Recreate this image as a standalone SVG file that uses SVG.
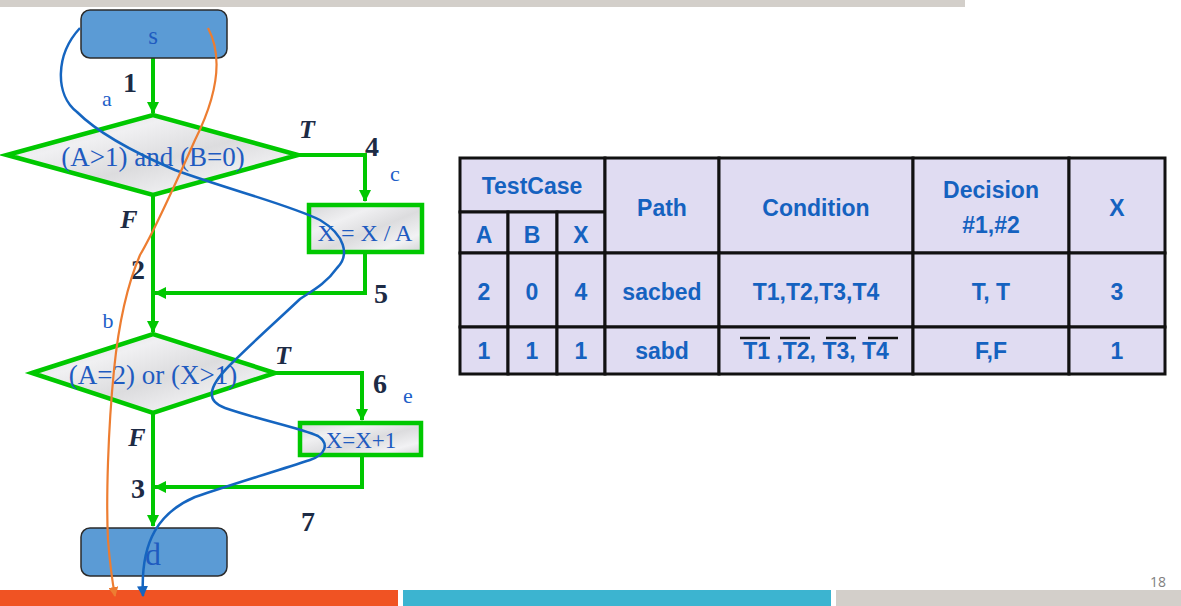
<svg xmlns="http://www.w3.org/2000/svg" width="1181" height="606" viewBox="0 0 1181 606">
<style>
.g{fill:none;stroke:#00c800;stroke-width:4}
.dia{fill:url(#marble);stroke:#00c800;stroke-width:4.5}
.term{fill:#5b9bd5;stroke:#2b2b2b;stroke-width:1.5}
.ft{font-family:"Liberation Serif","Times New Roman",serif;fill:#1f5bc0;text-anchor:middle}
.num{font-family:"Liberation Serif","Times New Roman",serif;font-weight:bold;font-size:28px;fill:#1d2b45;text-anchor:middle}
.tf{font-family:"Liberation Serif","Times New Roman",serif;font-weight:bold;font-style:italic;font-size:26px;fill:#1d2b45;text-anchor:middle}
.lab{font-family:"Liberation Serif","Times New Roman",serif;font-size:22px;fill:#1f5fc8;text-anchor:middle}
.cell{fill:#e0dcf2;stroke:#111;stroke-width:3}
.tt{font-family:"Liberation Sans",Arial,sans-serif;font-weight:bold;font-size:23px;fill:#1562c0;text-anchor:middle}
</style>
<defs>
<linearGradient id="marble" x1="0" y1="0" x2="1" y2="1">
<stop offset="0" stop-color="#d6d6d8"/>
<stop offset="0.3" stop-color="#f0f0f2"/>
<stop offset="0.55" stop-color="#dcdcde"/>
<stop offset="0.8" stop-color="#f2f2f4"/>
<stop offset="1" stop-color="#d4d4d6"/>
</linearGradient>
<marker id="ga" viewBox="0 0 12 12" refX="11" refY="6" markerWidth="12" markerHeight="12" markerUnits="userSpaceOnUse" orient="auto">
<path d="M0,0 L12,6 L0,12 z" fill="#00c800"/>
</marker>
<marker id="ba" viewBox="0 0 10 10" refX="9" refY="5" markerWidth="11" markerHeight="11" markerUnits="userSpaceOnUse" orient="auto">
<path d="M0,0 L10,5 L0,10 z" fill="#1565c0"/>
</marker>
<marker id="oa" viewBox="0 0 10 10" refX="9" refY="5" markerWidth="10" markerHeight="10" markerUnits="userSpaceOnUse" orient="auto">
<path d="M0,0 L10,5 L0,10 z" fill="#ed7d31"/>
</marker>
</defs>
<rect x="0" y="0" width="965" height="7" fill="#d3cfca"/>
<rect x="0" y="590" width="398" height="16" fill="#f05323"/>
<rect x="403" y="590" width="428" height="16" fill="#3cb4d0"/>
<rect x="836" y="590" width="345" height="16" fill="#d3cfca"/>
<text x="1158" y="587" font-family="'Open Sans','Liberation Sans',sans-serif" font-size="14" fill="#7f7f7f" text-anchor="middle">18</text>

<g id="connectors">
<path class="g" d="M153,58 V113" marker-end="url(#ga)"/>
<path class="g" d="M298,155 H365 V201" marker-end="url(#ga)"/>
<path class="g" d="M365,253 V293 H155" marker-end="url(#ga)"/>
<path class="g" d="M153,195 V332" marker-end="url(#ga)"/>
<path class="g" d="M275,373 H362 V420" marker-end="url(#ga)"/>
<path class="g" d="M362,455 V487 H155" marker-end="url(#ga)"/>
<path class="g" d="M153,413 V526" marker-end="url(#ga)"/>
</g>

<g id="s">
<rect class="term" x="81" y="10" width="146" height="48" rx="9"/>
<text class="ft" x="153" y="44" font-size="25">s</text>
</g>
<g id="d">
<rect class="term" x="81" y="528" width="146" height="48" rx="9"/>
<text class="ft" x="153" y="565" font-size="32">d</text>
</g>
<g id="decision1">
<polygon class="dia" points="7,155 153,115 298,155 153,195"/>
<text class="ft" x="153" y="166" font-size="27">(A&gt;1) and (B=0)</text>
</g>
<g id="box1">
<rect x="309" y="205" width="113" height="47" fill="url(#marble)" stroke="#00c800" stroke-width="4.5"/>
<text class="ft" x="365" y="241" font-size="24">X = X / A</text>
</g>
<g id="decision2">
<polygon class="dia" points="32,373 153,334 275,373 153,413"/>
<text class="ft" x="153" y="384" font-size="27">(A=2) or (X&gt;1)</text>
</g>
<g id="box2">
<rect x="300" y="423" width="121" height="32" fill="url(#marble)" stroke="#00c800" stroke-width="4.5"/>
<text class="ft" x="361" y="448" font-size="23">X=X+1</text>
</g>

<g id="labels">
<text class="num" x="130" y="92">1</text>
<text class="num" x="138" y="279">2</text>
<text class="num" x="138" y="498">3</text>
<text class="num" x="372" y="156">4</text>
<text class="num" x="381" y="303">5</text>
<text class="num" x="380" y="393">6</text>
<text class="num" x="308" y="531">7</text>
<text class="tf" x="307" y="138">T</text>
<text class="tf" x="129" y="228">F</text>
<text class="tf" x="283" y="364">T</text>
<text class="tf" x="137" y="446">F</text>
<text class="lab" x="107" y="106">a</text>
<text class="lab" x="108" y="328">b</text>
<text class="lab" x="395" y="181">c</text>
<text class="lab" x="408" y="403">e</text>
</g>

<g id="paths">
<path d="M80,28 C55,55 55,95 77,112 C100,135 140,155 175,170 C230,190 290,205 320,220 C345,235 350,255 337,268 C325,285 310,292 300,299 C280,318 255,340 230,365 C205,390 208,402 225,408 C260,420 300,428 318,436 C330,444 325,455 310,460 C270,473 230,485 195,497 C160,512 140,540 143,596" fill="none" stroke="#1565c0" stroke-width="2.5" marker-end="url(#ba)"/>
<path d="M208,28 C225,60 215,100 195,140 C175,185 155,230 140,255 C125,290 118,330 114,370 C108,430 106,500 108,540 C110,565 112,580 115,596" fill="none" stroke="#ed7d31" stroke-width="2.2" marker-end="url(#oa)"/>
</g>

<g id="table">
<rect class="cell" x="460" y="158" width="145" height="54"/>
<rect class="cell" x="460" y="212" width="48" height="41"/>
<rect class="cell" x="508" y="212" width="49" height="41"/>
<rect class="cell" x="557" y="212" width="48" height="41"/>
<rect class="cell" x="605" y="158" width="114" height="95"/>
<rect class="cell" x="719" y="158" width="194" height="95"/>
<rect class="cell" x="913" y="158" width="156" height="95"/>
<rect class="cell" x="1069" y="158" width="96" height="95"/>
<rect class="cell" x="460" y="253" width="48" height="74"/>
<rect class="cell" x="508" y="253" width="49" height="74"/>
<rect class="cell" x="557" y="253" width="48" height="74"/>
<rect class="cell" x="605" y="253" width="114" height="74"/>
<rect class="cell" x="719" y="253" width="194" height="74"/>
<rect class="cell" x="913" y="253" width="156" height="74"/>
<rect class="cell" x="1069" y="253" width="96" height="74"/>
<rect class="cell" x="460" y="327" width="48" height="47"/>
<rect class="cell" x="508" y="327" width="49" height="47"/>
<rect class="cell" x="557" y="327" width="48" height="47"/>
<rect class="cell" x="605" y="327" width="114" height="47"/>
<rect class="cell" x="719" y="327" width="194" height="47"/>
<rect class="cell" x="913" y="327" width="156" height="47"/>
<rect class="cell" x="1069" y="327" width="96" height="47"/>
<text class="tt" x="532" y="194">TestCase</text>
<text class="tt" x="484" y="243">A</text>
<text class="tt" x="532" y="243">B</text>
<text class="tt" x="581" y="243">X</text>
<text class="tt" x="662" y="216">Path</text>
<text class="tt" x="816" y="216">Condition</text>
<text class="tt" x="991" y="198">Decision</text>
<text class="tt" x="991" y="233">#1,#2</text>
<text class="tt" x="1117" y="216">X</text>
<text class="tt" x="484" y="300">2</text>
<text class="tt" x="532" y="300">0</text>
<text class="tt" x="581" y="300">4</text>
<text class="tt" x="662" y="300">sacbed</text>
<text class="tt" x="816" y="300">T1,T2,T3,T4</text>
<text class="tt" x="991" y="300">T, T</text>
<text class="tt" x="1117" y="300">3</text>
<text class="tt" x="484" y="359">1</text>
<text class="tt" x="532" y="359">1</text>
<text class="tt" x="581" y="359">1</text>
<text class="tt" x="662" y="359">sabd</text>
<text class="tt" x="816" y="359">T1 ,T2, T3, T4</text>
<text class="tt" x="991" y="359">F,F</text>
<text class="tt" x="1117" y="359">1</text>
<g stroke="#111" stroke-width="2.5">
<line x1="740" y1="338" x2="770" y2="338"/>
<line x1="780" y1="338" x2="810" y2="338"/>
<line x1="826" y1="338" x2="856" y2="338"/>
<line x1="868" y1="338" x2="898" y2="338"/>
</g>
</g>
</svg>
